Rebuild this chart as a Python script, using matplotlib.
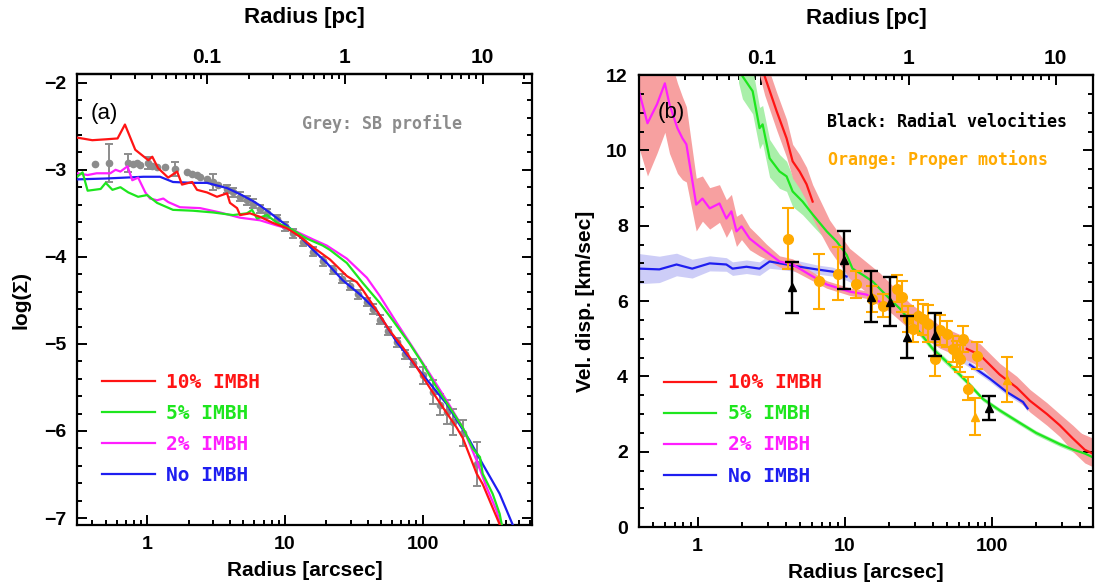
import numpy as np
import matplotlib
matplotlib.use("Agg")
import matplotlib.pyplot as plt
from matplotlib.ticker import LogLocator, MultipleLocator, NullFormatter

# arcsec per parsec at the adopted cluster distance
ARCSEC_PER_PC = 27.2

# ---- panel (a): log surface density vs radius [arcsec] ----
r_a_red = [0.31, 0.40, 0.50, 0.61, 0.69, 0.82, 1.02, 1.09, 1.20, 1.42, 1.65, 1.79, 2.12, 2.30,
           2.72, 3.21, 3.80, 3.99, 4.49, 4.72, 5.57, 6.59, 8.18, 10.3, 12.9, 16.0, 21.2, 28.1,
           33.2, 36.7, 46.4, 57.7, 71.7, 90.5, 112, 140, 176, 195, 246, 272, 321, 374]
s_a_red = [-2.63, -2.66, -2.65, -2.64, -2.48, -2.77, -2.89, -2.85, -2.98, -3.09, -3.02, -3.17,
           -3.14, -3.23, -3.26, -3.31, -3.27, -3.38, -3.44, -3.52, -3.50, -3.54, -3.61, -3.67,
           -3.77, -3.89, -4.03, -4.22, -4.29, -4.38, -4.62, -4.85, -5.04, -5.27, -5.50, -5.73,
           -5.96, -6.08, -6.49, -6.61, -6.88, -7.13]

r_a_green = [0.31, 0.34, 0.37, 0.46, 0.50, 0.56, 0.64, 0.73, 0.86, 1.0, 1.18, 1.54, 2.15, 3.01,
             4.20, 5.30, 5.77, 6.27, 7.41, 8.75, 11.4, 14.4, 18.8, 21.2, 28.1, 36.7, 48.8, 60.6,
             80.5, 100, 126, 157, 195, 230, 260, 272, 321, 361, 380]
s_a_green = [-3.08, -3.03, -3.24, -3.22, -3.15, -3.23, -3.20, -3.26, -3.31, -3.29, -3.38, -3.46,
             -3.47, -3.49, -3.52, -3.50, -3.46, -3.56, -3.52, -3.61, -3.69, -3.79, -3.87, -3.92,
             -4.07, -4.30, -4.53, -4.73, -5.00, -5.23, -5.50, -5.73, -5.96, -6.20, -6.30, -6.49,
             -6.72, -6.95, -7.13]

r_a_mag = [0.31, 0.37, 0.43, 0.54, 0.59, 0.64, 0.72, 0.78, 0.86, 0.97, 1.05, 1.18, 1.31, 1.42,
           1.73, 2.42, 3.38, 4.72, 6.59, 8.75, 11.4, 16.0, 20.1, 28.1, 39.3, 48.8, 64.8, 84.6,
           112, 149, 195, 246, 291, 344, 374]
s_a_mag = [-3.04, -3.06, -3.04, -3.04, -3.00, -3.02, -2.96, -3.12, -3.09, -3.26, -3.33, -3.35,
           -3.33, -3.37, -3.43, -3.44, -3.49, -3.55, -3.58, -3.64, -3.69, -3.80, -3.87, -4.02,
           -4.24, -4.45, -4.76, -5.04, -5.34, -5.65, -5.96, -6.34, -6.65, -6.92, -7.13]

r_a_blue = [0.31, 0.50, 0.94, 1.24, 1.54, 2.15, 2.72, 3.80, 4.72, 5.87, 6.59, 8.18, 10.3, 12.9,
            16.0, 20.1, 26.3, 34.9, 46.4, 64.8, 95, 149, 219, 272, 361, 464]
s_a_blue = [-3.11, -3.10, -3.08, -3.08, -3.14, -3.15, -3.15, -3.21, -3.28, -3.36, -3.41, -3.52,
            -3.64, -3.77, -3.92, -4.07, -4.27, -4.43, -4.62, -4.98, -5.31, -5.69, -6.11, -6.38,
            -6.72, -7.13]

# grey surface brightness profile (with errors, 0 = no bar)
r_sb = [0.42, 0.53, 0.73, 0.79, 0.85, 0.89, 1.02, 1.09, 1.18, 1.35, 1.60, 1.95, 2.12, 2.30,
        2.42, 2.72, 3.01, 3.27, 3.80, 4.20, 4.72, 5.30, 5.87, 6.59, 7.41, 8.75, 10.0, 11.4,
        13.5, 16.0, 18.8, 22.3, 25.9, 29.6, 33.8, 39.3, 43.4, 48.8, 55.7, 64.8, 74.1, 84.6,
        100, 118, 133, 149, 165, 195, 246]
s_sb = [-2.93, -2.92, -2.92, -2.93, -2.92, -2.94, -2.92, -2.96, -2.97, -2.97, -2.99, -3.03,
        -3.05, -3.06, -3.08, -3.10, -3.14, -3.17, -3.22, -3.26, -3.31, -3.35, -3.39, -3.45,
        -3.50, -3.57, -3.65, -3.73, -3.83, -3.94, -4.05, -4.15, -4.25, -4.33, -4.43, -4.52,
        -4.60, -4.72, -4.85, -4.98, -5.12, -5.22, -5.36, -5.55, -5.70, -5.78, -5.90, -6.02,
        -6.38]
e_sb = [0, 0.22, 0.10, 0, 0, 0, 0.07, 0, 0, 0, 0.08, 0, 0, 0, 0, 0, 0.09, 0, 0.05, 0.05,
        0.05, 0.05, 0.05, 0.05, 0.05, 0.05, 0.05, 0.05, 0.05, 0.05, 0.05, 0.05, 0.05, 0.05,
        0.05, 0.05, 0.06, 0.05, 0.05, 0.05, 0.05, 0.05, 0.10, 0.14, 0.12, 0.14, 0.15, 0.15, 0.25]

# ---- panel (b): velocity dispersion vs radius [arcsec] ----
r_b_red = [2.6, 2.86, 3.45, 4.03, 4.43, 4.94, 5.51, 6.06, 7.9, 10.8, 17.3, 27.7, 44.3, 67.6,
           82.9, 113, 148, 182, 237, 290, 356, 429, 487]
v_b_red = [12.6, 11.97, 11.04, 10.32, 9.71, 9.44, 9.10, 8.64, 7.75, 7.0, 6.35, 5.60, 5.05,
           4.73, 4.57, 4.05, 3.70, 3.35, 3.00, 2.70, 2.35, 2.05, 1.95]
e_b_red = [0.5, 0.5, 0.5, 0.5, 0.45, 0.45, 0.45, 0.45, 0.4, 0.4, 0.4, 0.35, 0.3, 0.3, 0.3,
           0.3, 0.3, 0.3, 0.3, 0.3, 0.35, 0.35, 0.35]

r_b_green = [1.9, 2.02, 2.37, 2.64, 2.77, 3.09, 3.61, 4.03, 4.43, 5.18, 6.06, 7.55, 8.83, 10.3,
             11.3, 13.2, 15.5, 18.1, 21.2, 23.7, 30.9, 39.7, 51.8, 67.6, 87, 113, 150, 200, 290,
             360, 430, 487]
v_b_green = [12.4, 11.97, 11.57, 10.59, 10.69, 9.79, 9.44, 9.31, 8.91, 8.64, 8.30, 7.85, 7.58,
             7.23, 6.86, 6.70, 6.52, 6.25, 5.98, 5.80, 5.27, 4.73, 4.31, 3.86, 3.40, 3.10, 2.80,
             2.50, 2.20, 2.05, 1.95, 1.85]
e_b_green = [0.6, 0.6, 0.6, 0.55, 0.5, 0.5, 0.45, 0.4, 0.4, 0.35, 0.3, 0.25, 0.25, 0.2, 0.2,
             0.15, 0.15, 0.15, 0.12, 0.12, 0.1, 0.08, 0.08, 0.07, 0.06, 0.06, 0.06, 0.06, 0.06,
             0.06, 0.06, 0.06]

r_b_mag = [0.40, 0.457, 0.53, 0.60, 0.645, 0.73, 0.79, 0.84, 0.98, 1.08, 1.21, 1.41, 1.57,
           1.70, 1.84, 1.99, 2.26, 2.64, 2.94, 3.61, 4.43, 5.78, 7.55, 10.8, 14.1, 17.3, 25, 40,
           67, 100, 150, 200, 300, 400, 487]
v_b_mag = [11.57, 10.72, 11.22, 11.78, 11.22, 10.59, 10.32, 10.16, 8.56, 8.72, 8.46, 8.59,
           8.19, 8.38, 7.85, 7.98, 7.66, 7.45, 7.31, 7.05, 6.97, 6.70, 6.44, 6.25, 6.17, 5.98,
           5.6, 5.0, 4.6, 4.1, 3.6, 3.2, 2.7, 2.4, 2.26]
e_b_mag = [1.5, 1.4, 1.3, 1.3, 1.3, 1.2, 1.1, 1.0, 0.7, 0.6, 0.55, 0.5, 0.5, 0.45, 0.4, 0.35,
           0.3, 0.25, 0.2, 0.15, 0.15, 0.12, 0.1, 0.1, 0.1, 0.1, 0.1, 0.1, 0.1, 0.1, 0.1, 0.1,
           0.1, 0.1, 0.1]

r_b_blue = [0.40, 0.55, 0.72, 0.92, 1.21, 1.57, 1.73, 2.15, 2.64, 3.09, 4.03, 4.94, 6.45, 8.28,
            10.3, 15, 25, 40, 55, 71, 97, 126, 163, 175]
v_b_blue = [6.86, 6.84, 6.97, 6.86, 7.0, 6.97, 6.86, 6.91, 6.86, 7.05, 6.97, 6.91, 6.84, 6.78,
            6.65, 6.3, 5.8, 5.1, 4.6, 4.31, 3.94, 3.59, 3.32, 3.15]
e_b_blue = [0.4, 0.35, 0.3, 0.25, 0.2, 0.18, 0.18, 0.18, 0.18, 0.18, 0.15, 0.15, 0.12, 0.12,
            0.1, 0.08, 0.08, 0.08, 0.08, 0.08, 0.08, 0.08, 0.08, 0.08]

# proper motions (orange) and radial velocities (black)
r_pm = [4.10, 6.65, 8.96, 11.9, 15.3, 18.1, 22.6, 24.4, 26.8, 29.0, 31.4, 34.0, 36.7, 40.9,
        44.3, 49.4, 54.3, 57.8, 60.6, 63.5, 68.7, 79.1]
v_pm = [7.66, 6.52, 6.73, 6.44, 6.06, 5.88, 6.33, 6.12, 5.53, 5.27, 5.59, 5.51, 5.40, 4.47,
        5.24, 5.13, 4.73, 4.60, 4.47, 5.00, 3.67, 4.55]
e_pm = [0.8, 0.72, 0.7, 0.36, 0.35, 0.3, 0.35, 0.4, 0.35, 0.35, 0.45, 0.4, 0.5, 0.45, 0.4,
        0.35, 0.35, 0.35, 0.35, 0.35, 0.3, 0.35]
r_pm_tri = [76.6, 126]
v_pm_tri = [2.93, 3.91]
e_pm_tri = [0.5, 0.6]

r_rv = [4.36, 9.85, 15.0, 20.2, 26.4, 40.9, 95.4]
v_rv = [6.36, 7.10, 6.12, 5.98, 5.05, 5.11, 3.16]
e_rv = [0.68, 0.77, 0.68, 0.65, 0.56, 0.58, 0.33]

labels = ["10% IMBH", "5% IMBH", "2% IMBH", "No IMBH"]
c_red, c_green, c_mag, c_blue = "#ff1414", "#1ee61e", "#ff1eff", "#1e1ef0"
c_orange, c_grey = "#ffaa00", "#8c8c8c"

plt.rcParams["font.family"] = ["Liberation Sans", "DejaVu Sans"]
plt.rcParams["font.weight"] = "bold"
plt.rcParams["axes.linewidth"] = 1.6
mono = {"family": ["DejaVu Sans Mono"], "weight": "bold"}
narrow = ["Liberation Sans Narrow", "Liberation Sans"]


def to_pc(r):
    return np.asarray(r, dtype=float) / ARCSEC_PER_PC


def to_arcsec(p):
    return np.asarray(p, dtype=float) * ARCSEC_PER_PC


def hide(r, v, lo, hi):
    # blank out a stretch of a line that is covered in the original figure
    r = np.asarray(r, float)
    v = np.asarray(v, float).copy()
    v[(r > lo) & (r < hi)] = np.nan
    return v


def style(ax, xlim, ylim, ymaj, ymin):
    ax.set_xscale("log")
    ax.set_xlim(*xlim)
    ax.set_ylim(*ylim)
    ax.set_xticks([1, 10, 100], labels=["1", "10", "100"])
    ax.xaxis.set_minor_locator(LogLocator(base=10, subs=np.arange(2, 10), numticks=20))
    ax.xaxis.set_minor_formatter(NullFormatter())
    ax.yaxis.set_major_locator(MultipleLocator(ymaj))
    ax.yaxis.set_minor_locator(MultipleLocator(ymin))
    ax.tick_params(which="both", direction="in", top=False, right=True, width=1.4,
                   labelsize=14, pad=8)
    ax.tick_params(which="major", length=7)
    ax.tick_params(which="minor", length=3.5)
    ax.set_xlabel("Radius [arcsec]", fontsize=15, fontweight="bold", labelpad=6)

    sec = ax.secondary_xaxis("top", functions=(to_pc, to_arcsec))
    sec.set_xticks([0.1, 1, 10], labels=["0.1", "1", "10"])
    sec.xaxis.set_minor_locator(LogLocator(base=10, subs=np.arange(2, 10), numticks=20))
    sec.xaxis.set_minor_formatter(NullFormatter())
    sec.tick_params(which="both", direction="in", width=1.4, pad=5)
    sec.tick_params(which="major", length=7)
    sec.tick_params(which="minor", length=3.5)
    for t in sec.get_xticklabels():
        t.set_fontfamily(narrow)
        t.set_fontsize(15)
    sec.set_xlabel("Radius [pc]", fontsize=16, fontweight="bold", family=narrow, labelpad=18)
    return sec


fig = plt.figure(figsize=(10.96, 5.88), dpi=100)
axa = fig.add_axes([0.0703, 0.1071, 0.4151, 0.767])
axb = fig.add_axes([0.5830, 0.1037, 0.4142, 0.7687])

# ---- panel (a) ----
style(axa, (0.31, 620), (-7.08, -1.9), 1, 0.2)
e = np.asarray(e_sb)
has = e > 0
axa.errorbar(np.asarray(r_sb)[has], np.asarray(s_sb)[has], yerr=e[has], fmt="none",
             ecolor=c_grey, elinewidth=1.4, capsize=3, capthick=1.4, zorder=2)
axa.plot(r_sb, s_sb, "o", color=c_grey, ms=4.5, zorder=2)
axa.plot(r_a_blue, s_a_blue, color=c_blue, lw=1.6, zorder=3, label=labels[3])
axa.plot(r_a_mag, s_a_mag, color=c_mag, lw=1.6, zorder=3, label=labels[2])
axa.plot(r_a_green, s_a_green, color=c_green, lw=1.6, zorder=3, label=labels[1])
axa.plot(r_a_red, s_a_red, color=c_red, lw=1.6, zorder=4, label=labels[0])
axa.set_ylabel("log(Σ)", fontsize=15, fontweight="bold")
axa.yaxis.set_label_coords(-0.103, 0.5)
axa.text(0.029, 0.913, "(a)", transform=axa.transAxes, fontsize=16, fontweight="normal",
         va="center", ha="left")
axa.text(0.846, 0.891, "Grey: SB profile", transform=axa.transAxes, color=c_grey,
         fontsize=12, va="center", ha="right", **mono)

# ---- panel (b) ----
style(axb, (0.40, 487), (0, 12), 2, 0.5)
axb.fill_between(r_b_blue, np.subtract(v_b_blue, e_b_blue), np.add(v_b_blue, e_b_blue),
                 color="#cdcdf7", lw=0, zorder=1)
axb.fill_between(r_b_green, np.subtract(v_b_green, e_b_green), np.add(v_b_green, e_b_green),
                 color="#a9efa9", lw=0, zorder=1)
axb.fill_between(r_b_red, np.subtract(v_b_red, e_b_red), np.add(v_b_red, e_b_red),
                 color="#f7a0a0", lw=0, zorder=1)
axb.fill_between(r_b_mag, np.subtract(v_b_mag, e_b_mag), np.add(v_b_mag, e_b_mag),
                 color="#f7a0a0", lw=0, zorder=1)
axb.plot(r_b_blue, hide(r_b_blue, v_b_blue, 10.5, 60), color=c_blue, lw=1.6, zorder=2,
         label=labels[3])
axb.plot(r_b_mag, hide(r_b_mag, v_b_mag, 18, 420), color=c_mag, lw=1.6, zorder=2,
         label=labels[2])
axb.plot(r_b_red, hide(r_b_red, v_b_red, 6.5, 60), color=c_red, lw=1.6, zorder=2,
         label=labels[0])
axb.plot(r_b_green, v_b_green, color=c_green, lw=1.6, zorder=2, label=labels[1])

axb.errorbar(r_pm, v_pm, yerr=e_pm, fmt="o", color=c_orange, ms=7, elinewidth=1.5,
             capsize=4.5, capthick=1.5, zorder=4)
axb.errorbar(r_pm_tri, v_pm_tri, yerr=e_pm_tri, fmt="^", color=c_orange, ms=6,
             elinewidth=1.5, capsize=4.5, capthick=1.5, zorder=4)
axb.errorbar(r_rv, v_rv, yerr=e_rv, fmt="^", color="black", ms=6, elinewidth=1.7,
             capsize=5, capthick=1.7, zorder=5)
axb.set_ylabel("Vel. disp. [km/sec]", fontsize=15, fontweight="bold")
axb.yaxis.set_label_coords(-0.097, 0.5)
axb.text(0.042, 0.916, "(b)", transform=axb.transAxes, fontsize=16, fontweight="normal",
         va="center", ha="left")
axb.text(0.414, 0.896, "Black: Radial velocities", transform=axb.transAxes, color="black",
         fontsize=12, va="center", ha="left", **mono)
axb.text(0.416, 0.812, "Orange: Proper motions", transform=axb.transAxes, color=c_orange,
         fontsize=12, va="center", ha="left", **mono)

# legends in both panels, same order as the original
for ax, anchor in ((axa, (0.055, 0.338)), (axb, (0.055, 0.340))):
    h, l = ax.get_legend_handles_labels()
    order = [l.index(s) for s in labels]
    leg = ax.legend([h[i] for i in order], [l[i] for i in order], loc="upper left",
                    bbox_to_anchor=anchor, frameon=False, handlelength=2.7,
                    handletextpad=0.6, labelspacing=0.62, borderpad=0, borderaxespad=0,
                    labelcolor="linecolor", prop={"family": "DejaVu Sans Mono",
                                                  "weight": "bold", "size": 14})

fig.savefig("out.png", dpi=100)
